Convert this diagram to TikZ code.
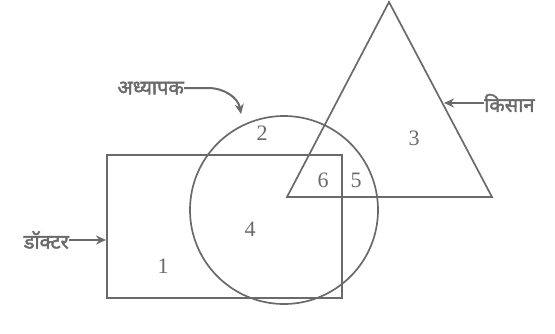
\documentclass[tikz,border=0pt]{standalone}
\usepackage{fontspec}
\setmainfont{Liberation Serif}
\newfontfamily\deva[Script=Devanagari,FakeBold=2]{Noto Sans}
\usetikzlibrary{arrows.meta}
\definecolor{ink}{HTML}{6A6A6A}
\begin{document}
\begin{tikzpicture}[x=1pt,y=-1pt,
  shape line/.style={draw=ink,line width=1.7pt},
  lbl/.style={text=ink,font=\deva\fontsize{20}{22}\selectfont,inner sep=0pt},
  num/.style={text=ink,font=\fontsize{22}{24}\selectfont,inner sep=0pt},
  pointer/.style={draw=ink,line width=2pt,-{Stealth[length=10pt,width=9pt]}}]
\useasboundingbox (0,0) rectangle (555,333);
% shapes
\draw[shape line] (107,155) rectangle (342,298);
\draw[shape line] (284,210) circle (94);
\draw[shape line] (389,2) -- (492,197) -- (287,197) -- cycle;
% region numbers
\node[num] (n1) at (163,266) {1};
\node[num] (n2) at (262,133) {2};
\node[num] (n3) at (414,138) {3};
\node[num] (n4) at (250,229) {4};
\node[num] (n5) at (356,180) {5};
\node[num] (n6) at (323,180) {6};
% labels
\node[lbl,anchor=east] (adh) at (184,88) {अध्यापक};
\node[lbl,anchor=west] (kis) at (484,103) {किसान};
\node[lbl,anchor=east] (doc) at (69,240) {डॉक्टर};
\coordinate (adhT) at (241,114);
\coordinate (kisT) at (444,103);
\coordinate (docT) at (106,240);
\draw[pointer] (adh.east) -- (208,88) to[out=0,in=100] (adhT);
\draw[pointer] (kis.west) -- (kisT);
\draw[pointer] (doc.east) -- (docT);
\end{tikzpicture}
\end{document}
